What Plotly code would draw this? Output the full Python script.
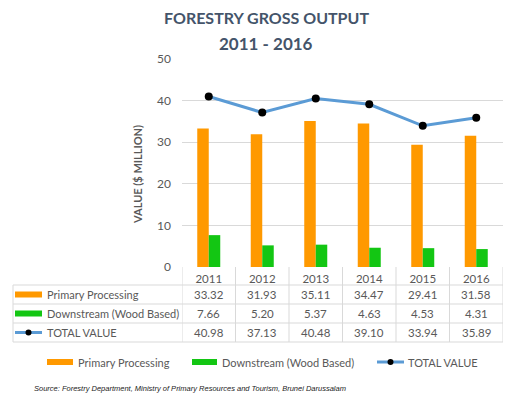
import plotly.graph_objects as go

years = ["2011", "2012", "2013", "2014", "2015", "2016"]
primary = [33.32, 31.93, 35.11, 34.47, 29.41, 31.58]
downstream = [7.66, 5.20, 5.37, 4.63, 4.53, 4.31]
total = [40.98, 37.13, 40.48, 39.10, 33.94, 35.89]
series_names = ["Primary Processing", "Downstream (Wood Based)", "TOTAL VALUE"]
y_ticks = [0, 10, 20, 30, 40, 50]

ORANGE = "#FF9900"
GREEN = "#13C613"
BLUE = "#5B9BD5"
TXT = "#595959"
GRID = "#D9D9D9"
TITLE = "#44546A"
FONT = "Lato"

W, H = 513, 399
L, R, T, B = 182, 503, 59, 267


def px(x):
    return (x - L) / (R - L)


def py(y):
    return (B - y) / (B - T)


fig = go.Figure()
fig.add_trace(go.Bar(x=years, y=primary, name=series_names[0], marker_color=ORANGE,
                     marker_line_width=0, showlegend=False))
fig.add_trace(go.Bar(x=years, y=downstream, name=series_names[1], marker_color=GREEN,
                     marker_line_width=0, showlegend=False))
fig.add_trace(go.Scatter(x=years, y=total, name=series_names[2], mode="lines+markers",
                         line=dict(color=BLUE, width=3),
                         marker=dict(color="black", size=8), showlegend=False))

shapes = []
annotations = []
line_style = dict(color=GRID, width=1)

# table horizontal lines
for yy in [285, 304, 323, 342]:
    shapes.append(dict(type="line", xref="paper", yref="paper", x0=px(13), x1=1,
                       y0=py(yy), y1=py(yy), line=line_style, layer="below"))
# left border
shapes.append(dict(type="line", xref="paper", yref="paper", x0=px(13), x1=px(13),
                   y0=py(285), y1=py(342), line=line_style))
# column borders
for i in range(len(years) + 1):
    shapes.append(dict(type="line", xref="x", yref="paper", x0=i - 0.5, x1=i - 0.5,
                       y0=py(267), y1=py(342), line=line_style))


def ann(x, y, text, size=11.5, color=TXT, xanchor="center", xref="paper", family=FONT, **kw):
    annotations.append(dict(x=x, xref=xref, y=y, yref="paper", text=text, showarrow=False,
                            xanchor=xanchor, yanchor="middle",
                            font=dict(family=family, size=size, color=color), **kw))


row_y = [294.5, 313.5, 332.5]
rows = [primary, downstream, total]
for r, vals in enumerate(rows):
    for i, v in enumerate(vals):
        ann(i, py(row_y[r]), f"{v:.2f}", xref="x")
    ann(px(45), py(row_y[r]), series_names[r], xanchor="left", size=11)


def swatch(x0, x1, yc, kind):
    if kind == 0 or kind == 1:
        shapes.append(dict(type="rect", xref="paper", yref="paper", x0=px(x0), x1=px(x1),
                           y0=py(yc + 3), y1=py(yc - 3),
                           fillcolor=ORANGE if kind == 0 else GREEN, line_width=0))
    else:
        shapes.append(dict(type="line", xref="paper", yref="paper", x0=px(x0), x1=px(x1),
                           y0=py(yc), y1=py(yc), line=dict(color=BLUE, width=3)))
        xm = (x0 + x1) / 2
        shapes.append(dict(type="circle", xref="paper", yref="paper", x0=px(xm - 3),
                           x1=px(xm + 3), y0=py(yc + 3), y1=py(yc - 3),
                           fillcolor="black", line_width=0))


for r in range(3):
    swatch(15, 42, row_y[r], r)

# bottom legend
leg_y = 362
leg_x = [(47, 73, 76), (192, 217, 220), (377, 404, 406)]
for k, (a, b, t) in enumerate(leg_x):
    swatch(a, b, leg_y, k)
    ann(px(t), py(leg_y), series_names[k], xanchor="left", size=11)

# titles
ann(px(266), py(17), "<b>FORESTRY GROSS OUTPUT</b>", size=16, color=TITLE)
ann(px(266), py(43), "<b>2011 - 2016</b>", size=17, color=TITLE)
ann(px(137), py(175), "<b>VALUE ($ MILLION)</b>", size=11, textangle=-90)
ann(px(32), py(388),
    "<i>Source: Forestry Department, Ministry of Primary Resources and Tourism, Brunei Darussalam</i>",
    size=7.5, color="#222222", xanchor="left", family="Liberation Sans")

fig.update_layout(
    width=W, height=H,
    margin=dict(l=L, r=W - R, t=T, b=H - B, pad=0),
    paper_bgcolor="white", plot_bgcolor="white",
    barmode="group", bargap=0.57, bargroupgap=0,
    shapes=shapes, annotations=annotations,
    font=dict(family=FONT, size=12, color=TXT),
    xaxis=dict(type="category", range=[-0.5, 5.5], showgrid=False, showline=False,
               zeroline=False, ticks="", tickfont=dict(family=FONT, size=11.5, color=TXT),
               ticklabelstandoff=3),
    yaxis=dict(range=[0, 50], tickvals=y_ticks, showgrid=True, gridcolor=GRID,
               gridwidth=1, zeroline=False, showline=False, ticks="",
               tickfont=dict(family=FONT, size=12, color=TXT), ticklabelstandoff=10),
)

fig.write_html("out.html", config={"displayModeBar": False},
               post_script="document.body.style.margin='0';")
